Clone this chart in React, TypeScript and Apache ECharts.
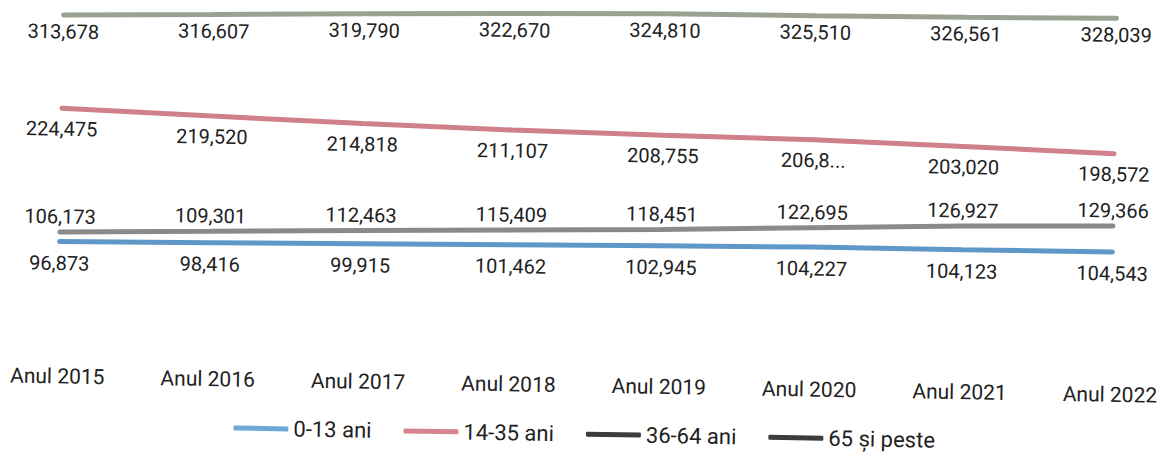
import React, { useEffect, useRef } from "react";
import * as echarts from "echarts";

const categories = ["Anul 2015", "Anul 2016", "Anul 2017", "Anul 2018", "Anul 2019", "Anul 2020", "Anul 2021", "Anul 2022"];
const seriesNames = ["0-13 ani", "14-35 ani", "36-64 ani", "65 și peste"];
const ages0to13 = [96873, 98416, 99915, 101462, 102945, 104227, 104123, 104543];
const ages14to35 = [224475, 219520, 214818, 211107, 208755, 206850, 203020, 198572];
const ages36to64 = [313678, 316607, 319790, 322670, 324810, 325510, 326561, 328039];
const ages65plus = [106173, 109301, 112463, 115409, 118451, 122695, 126927, 129366];
// labels shown truncated in the original (series index, data index, text)
const truncatedLabels: [number, number, string][] = [[1, 5, "206,8..."]];

const fmt = (v: number) => String(v).replace(/\B(?=(\d{3})+(?!\d))/g, ",");

export default function App() {
  const ref = useRef<HTMLDivElement>(null);
  useEffect(() => {
    if (!ref.current) return;
    const chart = echarts.init(ref.current, null, { renderer: "svg" });
    const font = "Roboto";
    const lineColors = ["#5f98c8", "#cf8088", "#99a290", "#8a8a8a"];
    const legendColors = ["#6fa8d6", "#d5858d", "#3c3c3c", "#3c3c3c"];
    const labelPos = ["bottom", "bottom", "bottom", "top"];
    const labelDist = [11, 10, 6, 5];
    const allData = [ages0to13, ages14to35, ages36to64, ages65plus];
    chart.setOption({
      animation: false,
      grid: { left: 60, right: 50, top: 7, bottom: 101 },
      legend: {
        left: 232,
        top: 418,
        icon: "roundRect",
        itemWidth: 55,
        itemHeight: 5,
        itemGap: 32,
        textStyle: { fontFamily: font, fontSize: 22, color: "#222" },
        data: seriesNames.map((n, i) => ({ name: n, itemStyle: { color: legendColors[i] } })),
      },
      xAxis: {
        type: "category",
        data: categories,
        boundaryGap: false,
        axisLine: { show: false },
        axisTick: { show: false },
        axisLabel: { color: "#222", fontFamily: font, fontSize: 21, margin: 23, interval: 0 },
      },
      yAxis: { type: "value", min: 0, max: 330000, show: false, splitLine: { show: false } },
      series: allData.map((d, si) => ({
        name: seriesNames[si],
        type: "line",
        data: d,
        symbol: "circle",
        symbolSize: 1,
        showSymbol: true,
        itemStyle: { color: lineColors[si] },
        lineStyle: { width: 5, color: lineColors[si], cap: "round" },
        label: {
          show: true,
          position: labelPos[si],
          distance: labelDist[si],
          color: "#222",
          fontFamily: font,
          fontSize: 20,
          formatter: (p: any) => {
            const t = truncatedLabels.find((x) => x[0] === si && x[1] === p.dataIndex);
            return t ? t[2] : fmt(p.value);
          },
        },
      })),
    });
    return () => chart.dispose();
  }, []);
  return (
    <div
      style={{
        position: "absolute",
        left: 0,
        top: 0,
        width: 1163,
        height: 453,
        transform: "rotate(1deg)",
        transformOrigin: "50% 50%",
        background: "#fff",
      }}
    >
      <div ref={ref} style={{ width: 1163, height: 453 }} />
    </div>
  );
}
